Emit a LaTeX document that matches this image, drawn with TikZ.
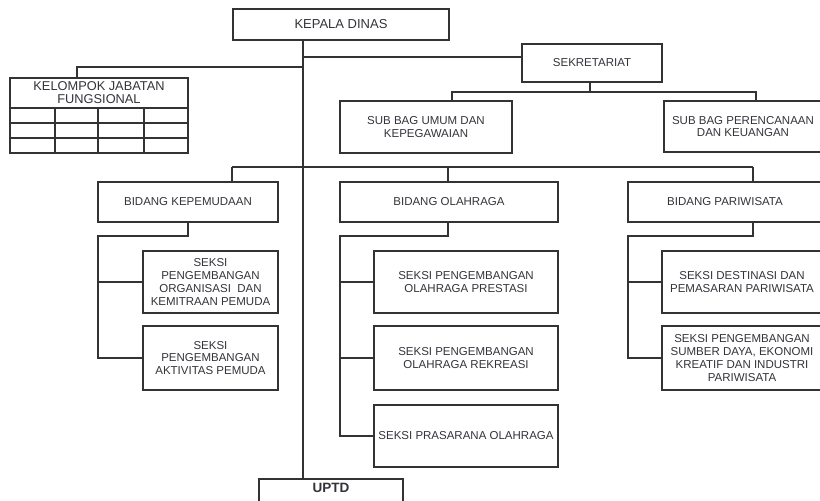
\documentclass[tikz,border=0pt]{standalone}
\usepackage{fontspec}
\setmainfont{Liberation Sans}
\definecolor{linec}{HTML}{333333}
\definecolor{textc}{HTML}{33333A}
\begin{document}
\begin{tikzpicture}[x=1pt,y=-1pt,
  box/.style={draw=linec, line width=1.7pt, rectangle, inner sep=1pt, outer sep=0pt,
    align=center, text=textc, font=\fontsize{11.5}{12.7}\selectfont},
  conn/.style={draw=linec, line width=1.7pt}]
\useasboundingbox (0,0) rectangle (820,501);
\fill[white] (0,0) rectangle (820,501);
\clip (0,0) rectangle (820,501);

% nodes
\node[box, minimum width=216, minimum height=31, font=\fontsize{13}{15}\selectfont] (kepala) at (341,24.5) {KEPALA DINAS};
\node[box, minimum width=140, minimum height=38] (sekr) at (592,63) {SEKRETARIAT};
\node[box, minimum width=178, minimum height=30, font=\fontsize{12.8}{13}\selectfont] (kjft) at (99,93) {KELOMPOK JABATAN\\FUNGSIONAL};
\node[box, minimum width=172, minimum height=52] (subumum) at (426,127) {SUB BAG UMUM DAN\\KEPEGAWAIAN};
\node[box, minimum width=158, minimum height=51] (subper) at (743,126.5) {SUB BAG PERENCANAAN\\DAN KEUANGAN};

\node[box, minimum width=180, minimum height=40] (bkep) at (188,202) {BIDANG KEPEMUDAAN};
\node[box, minimum width=218, minimum height=40] (bolah) at (449,202) {BIDANG OLAHRAGA};
\node[box, minimum width=194, minimum height=40] (bpar) at (725,202) {BIDANG PARIWISATA};

\node[box, minimum width=135, minimum height=62] (k1) at (210.5,282) {SEKSI\\PENGEMBANGAN\\ORGANISASI~~DAN\\KEMITRAAN PEMUDA};
\node[box, minimum width=135, minimum height=64] (k2) at (210.5,358) {SEKSI\\PENGEMBANGAN\\AKTIVITAS PEMUDA};

\node[box, minimum width=184, minimum height=62] (o1) at (466,282) {SEKSI PENGEMBANGAN\\OLAHRAGA PRESTASI};
\node[box, minimum width=184, minimum height=64] (o2) at (466,358) {SEKSI PENGEMBANGAN\\OLAHRAGA REKREASI};
\node[box, minimum width=184, minimum height=62] (o3) at (466,436) {SEKSI PRASARANA OLAHRAGA};

\node[box, minimum width=160, minimum height=62] (p1) at (742,282) {SEKSI DESTINASI DAN\\PEMASARAN PARIWISATA};
\node[box, minimum width=160, minimum height=64] (p2) at (742,358) {SEKSI PENGEMBANGAN\\SUMBER DAYA, EKONOMI\\KREATIF DAN INDUSTRI\\PARIWISATA};

\node[box, anchor=north, minimum width=144, inner ysep=3pt, text height=10pt, text depth=30pt,
  font=\bfseries\fontsize{13.5}{15}\selectfont] (uptd) at (331,479) {UPTD};

% KJF grid
\draw[conn] (kjft.south west) rectangle (188,153);
\draw[conn] (10,123) -- (188,123);
\draw[conn] (10,138) -- (188,138);
\draw[conn, line width=2.1pt] (55,108) -- (55,153);
\draw[conn, line width=2.1pt] (98,108) -- (98,153);
\draw[conn] (144,108) -- (144,153);

% trunk
\coordinate (tr) at (303,0);
\draw[conn] (kepala.south -| tr) -- (uptd.north -| tr);
\coordinate (js) at (303,57);
\draw[conn] (js) -- (js -| sekr.west);
\coordinate (jk) at (303,67);
\coordinate (kx) at (77,0);
\draw[conn] (jk) -| (kx |- kjft.north);

% sekretariat branch
\coordinate (sj) at (590,92);
\coordinate (su) at (452,92);
\coordinate (sp) at (756,92);
\draw[conn] (sekr.south -| sj) -- (sj);
\draw[conn] (su |- subumum.north) -- (su) -- (sp) -- (sp |- subper.north);

% bidang bus
\coordinate (ba) at (232,167);
\coordinate (bb) at (448,167);
\coordinate (bc) at (753,167);
\draw[conn] (ba) -- (bc);
\draw[conn] (ba) -- (ba |- bkep.north);
\draw[conn] (bb) -- (bb |- bolah.north);
\draw[conn] (bc) -- (bc |- bpar.north);

% kepemudaan
\coordinate (kv) at (98,236);
\draw[conn] (bkep.south) |- (kv) -- (kv |- k2.west) -- (k2.west);
\draw[conn] (kv |- k1.west) -- (k1.west);

% olahraga
\coordinate (ov) at (340,236);
\draw[conn] (bb |- bolah.south) |- (ov) -- (ov |- o3.west) -- (o3.west);
\draw[conn] (ov |- o1.west) -- (o1.west);
\draw[conn] (ov |- o2.west) -- (o2.west);

% pariwisata
\coordinate (pv) at (628,236);
\draw[conn] (bc |- bpar.south) |- (pv) -- (pv |- p2.west) -- (p2.west);
\draw[conn] (pv |- p1.west) -- (p1.west);
\end{tikzpicture}
\end{document}
